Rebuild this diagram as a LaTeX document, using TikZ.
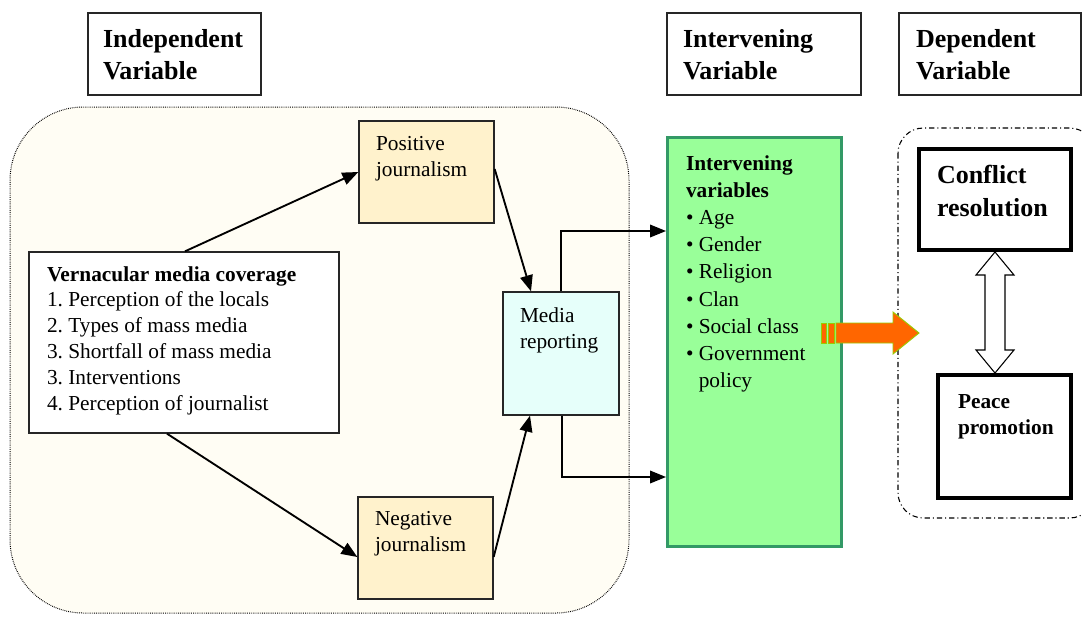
\documentclass[tikz,border=0pt]{standalone}
\usepackage{fontspec}
\setmainfont{Liberation Serif}
\usetikzlibrary{arrows.meta,calc}
\definecolor{cream}{RGB}{255,253,244}
\definecolor{jour}{RGB}{255,242,204}
\definecolor{medc}{RGB}{230,255,250}
\definecolor{lgreen}{RGB}{153,255,153}
\definecolor{dgreen}{RGB}{51,153,102}
\definecolor{orng}{RGB}{255,102,0}
\definecolor{ygreen}{RGB}{153,204,0}
\newcommand{\rowsT}[1]{\begin{tabular}[t]{@{}l@{}}#1\end{tabular}}
\frenchspacing
\begin{document}
\begin{tikzpicture}[x=0.75pt,y=-0.75pt,
 box/.style={draw=black!85, line width=1pt, inner sep=0pt},
 hbox/.style={draw=black!85, line width=1pt, inner sep=0pt, fill=white},
 tbox/.style={draw=black, line width=3pt, inner sep=0pt, fill=white},
 txt/.style={anchor=base west, inner sep=0pt, outer sep=0pt},
 head/.style={txt, font=\fontsize{19.5}{24}\selectfont\bfseries},
 body/.style={txt, font=\fontsize{16}{20}\selectfont},
 arr/.style={line width=1.4pt, -{Triangle[length=12pt,width=9.5pt]}},
 elb/.style={line width=1.1pt, -{Triangle[length=12pt,width=9.5pt]}},
]
\useasboundingbox (0,0) rectangle (1082,618);
\clip (0,0) rectangle (1082,618);
\fill[white] (0,0) rectangle (1082,618);

% heading boxes
\node[hbox, minimum width=129.75pt, minimum height=61.5pt] (indbox) at (174.5,54) {};
\node[head] (indtxt) at (103,47) {\rowsT{Independent\\Variable}};
\node[hbox, minimum width=145.5pt, minimum height=61.5pt] (intbox) at (764,54) {};
\node[head] (inttxt) at (683,47) {\rowsT{Intervening\\Variable}};
\node[hbox, minimum width=136.5pt, minimum height=61.5pt] (depbox) at (990,54) {};
\node[head] (deptxt) at (916,47) {\rowsT{Dependent\\Variable}};

% independent region
\draw[fill=cream, draw=black, line width=0.75pt, dash pattern=on 0.6pt off 0.8pt, rounded corners=55pt]
  (10,107) rectangle (629,613);

% dependent region
\draw[draw=black, line width=0.8pt, dash pattern=on 4pt off 2.2pt on 0.8pt off 2.2pt, rounded corners=19pt]
  (898,128) rectangle (1095,518);

% boxes
\node[box, fill=white, minimum width=232.5pt, minimum height=135.75pt] (vern) at (184,342.5) {};
\node[body, font=\fontsize{16}{19.4}\selectfont] (verntxt) at (47,281) {\rowsT{\textbf{Vernacular media coverage}\\1. Perception of the locals\\2. Types of mass media\\3. Shortfall of mass media\\3. Interventions\\4. Perception of journalist}};

\node[box, fill=jour, minimum width=101.25pt, minimum height=76.5pt] (pos) at (426.5,172) {};
\node[body] (postxt) at (376,150) {\rowsT{Positive\\journalism}};

\node[box, fill=jour, minimum width=101.25pt, minimum height=76.5pt] (neg) at (425.5,548) {};
\node[body] (negtxt) at (375,525) {\rowsT{Negative\\journalism}};

\node[box, fill=medc, minimum width=87pt, minimum height=92.25pt] (media) at (561,353.5) {};
\node[body, font=\fontsize{16}{19.5}\selectfont] (mediatxt) at (520,322) {\rowsT{Media\\reporting}};

\node[draw=dgreen, line width=2.25pt, fill=lgreen, inner sep=0pt, minimum width=130.5pt, minimum height=306.75pt] (green) at (754.5,342) {};
\node[body, font=\fontsize{16}{20.4}\selectfont] (greentxt) at (686,170) {\begin{tabular}[t]{@{}l@{\hspace{4pt}}l@{}}
\multicolumn{2}{@{}l@{}}{\textbf{Intervening}}\\
\multicolumn{2}{@{}l@{}}{\textbf{variables}}\\
•&Age\\ •&Gender\\ •&Religion\\ •&Clan\\ •&Social class\\ •&Government\\ &policy
\end{tabular}};

\node[tbox, minimum width=114pt, minimum height=75.75pt] (conf) at (995,199.5) {};
\node[head, font=\fontsize{19.5}{24.75}\selectfont\bfseries] (conftxt) at (937,183) {\rowsT{Conflict\\resolution}};

\node[tbox, minimum width=99.75pt, minimum height=92.25pt] (peace) at (1004.5,436.5) {};
\node[body, font=\fontsize{16}{19.5}\selectfont\bfseries] (peacetxt) at (958,408) {\rowsT{Peace\\promotion}};

% connectors
\draw[arr] ($(vern.north)+(1,0)$) -- (pos.west);
\draw[arr] ($(vern.south)+(-17,0)$) -- ($(neg.west)+(0,9)$);
\draw[arr] ($(pos.east)+(0,-3)$) -- ($(media.north)+(-30,0)$);
\draw[arr] ($(neg.east)+(0,9)$) -- ($(media.south)+(-31,0)$);
\coordinate (g1) at (green.west |- 0,231);
\coordinate (g2) at (green.west |- 0,477);
\draw[elb] (media.north) |- (g1);
\draw[elb] ($(media.south)+(1,0)$) |- (g2);

% orange arrow
\filldraw[fill=orng, draw=ygreen, line width=0.7pt] (821,323) rectangle (826,343);
\filldraw[fill=orng, draw=ygreen, line width=0.7pt] (828,323) rectangle (834,343);
\filldraw[fill=orng, draw=ygreen, line width=0.7pt]
  (836,323) -- (893,323) -- (893,312) -- (919,333) -- (893,354) -- (893,343) -- (836,343) -- cycle;

% double arrow between conflict and peace
\coordinate (da1) at (conf.south);
\coordinate (da2) at (conf.south |- peace.north);
\draw[fill=white, line width=0.8pt]
  (da1) -- ($(da1)+(19,23)$) -- ($(da1)+(10,23)$) -- ($(da2)+(10,-23)$) -- ($(da2)+(19,-23)$) -- (da2)
  -- ($(da2)+(-19,-23)$) -- ($(da2)+(-10,-23)$) -- ($(da1)+(-10,23)$) -- ($(da1)+(-19,23)$) -- cycle;
\end{tikzpicture}
\end{document}
